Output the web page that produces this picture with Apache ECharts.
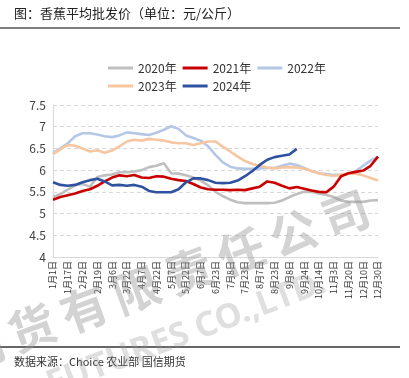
<!DOCTYPE html>
<html><head><meta charset="utf-8">
<script src="https://cdn.jsdelivr.net/npm/echarts@6/dist/echarts.min.js"></script>
<style>html,body{margin:0;padding:0;background:#fff}#c{width:409px;height:378px}</style>
</head><body><div id="c"></div>
<script>
var dates = ['1月1日','1月9日','1月17日','1月25日','2月2日','2月10日','2月19日','2月27日','3月6日','3月14日','3月22日','3月30日','4月7日','4月14日','4月22日','4月29日','5月7日','5月14日','5月22日','5月30日','6月7日','6月15日','6月23日','6月30日','7月8日','7月15日','7月23日','7月30日','8月7日','8月15日','8月23日','8月31日','9月8日','9月16日','9月24日','10月4日','10月14日','10月24日','11月3日','11月11日','11月20日','11月30日','12月10日','12月20日','12月30日'];
var tickLabels = ['1月1日','1月17日','2月2日','2月19日','3月6日','3月22日','4月7日','4月22日','5月7日','5月22日','6月7日','6月23日','7月8日','7月23日','8月7日','8月23日','9月8日','9月24日','10月14日','11月3日','11月20日','12月10日','12月30日'];
var seriesNames = ['2020年','2021年','2022年','2023年','2024年'];
var y2020 = [5.38,5.45,5.55,5.65,5.68,5.62,5.84,5.88,5.90,5.95,5.95,5.97,6.00,6.07,6.10,6.16,5.93,5.92,5.88,5.83,5.76,5.65,5.50,5.40,5.32,5.26,5.24,5.24,5.24,5.24,5.25,5.30,5.38,5.45,5.50,5.50,5.46,5.43,5.38,5.30,5.27,5.27,5.27,5.30,5.31];
var y2021 = [5.32,5.38,5.42,5.46,5.52,5.56,5.64,5.74,5.83,5.88,5.86,5.89,5.83,5.82,5.86,5.85,5.80,5.77,5.75,5.68,5.60,5.56,5.55,5.55,5.54,5.55,5.54,5.58,5.62,5.74,5.71,5.64,5.58,5.61,5.57,5.53,5.50,5.49,5.62,5.86,5.93,5.96,5.99,6.10,6.31];
var y2022 = [6.40,6.50,6.62,6.78,6.85,6.85,6.82,6.78,6.76,6.80,6.87,6.85,6.83,6.81,6.86,6.93,7.01,6.95,6.80,6.74,6.68,6.55,6.35,6.18,6.08,6.04,6.03,6.03,6.04,6.05,6.05,6.10,6.15,6.12,6.05,5.98,5.93,5.91,5.89,5.89,5.91,5.98,6.10,6.22,6.31];
var y2023 = [6.37,6.48,6.58,6.56,6.50,6.43,6.46,6.40,6.45,6.55,6.66,6.70,6.68,6.72,6.70,6.68,6.64,6.62,6.62,6.58,6.62,6.66,6.66,6.54,6.43,6.31,6.21,6.14,6.10,6.06,6.04,6.06,6.07,6.06,6.03,5.98,5.93,5.89,5.87,5.89,5.92,5.92,5.88,5.82,5.76];
var y2024 = [5.72,5.66,5.64,5.66,5.72,5.77,5.80,5.74,5.65,5.66,5.64,5.66,5.62,5.52,5.49,5.49,5.49,5.56,5.72,5.81,5.81,5.77,5.71,5.70,5.71,5.76,5.86,5.98,6.12,6.24,6.30,6.33,6.36,6.49,null,null,null,null,null,null,null,null,null,null,null];
var colors = ['#bfbfbf','#c80000','#b4c7e7','#f7c6a0','#2f52a0'];
var allData = [y2020,y2021,y2022,y2023,y2024];
var wmChars = ['期','货','有','限','责','任','公','司'];

var chart = echarts.init(document.getElementById('c'));
var series = seriesNames.map(function(n,k){
  return {name:n,type:'line',data:allData[k],symbol:'none',smooth:false,
    lineStyle:{width:2.6,color:colors[k]},itemStyle:{color:colors[k]},z:k===4?6:(k===1?5:3)};
});
chart.setOption({
  backgroundColor:'#fff',
  animation:false,
  color:colors,
  legend:{left:103,top:57,width:220,itemWidth:25,itemHeight:3,icon:'rect',itemGap:6,
    textStyle:{fontSize:12,color:'#333',fontFamily:'Noto Sans CJK SC'},data:seriesNames},
  grid:{left:53,right:31,top:105,bottom:121},
  xAxis:{type:'category',data:dates,boundaryGap:false,
    axisLine:{lineStyle:{color:'#d9d9d9'}},axisTick:{show:false},
    axisLabel:{rotate:90,fontSize:9,color:'#333',margin:4,fontFamily:'Noto Sans CJK SC',
      interval:function(i,v){return tickLabels.indexOf(v)>=0;}}},
  yAxis:{type:'value',min:4,max:7.5,interval:0.5,
    axisLine:{show:true,lineStyle:{color:'#d9d9d9'}},axisTick:{show:false},
    axisLabel:{fontSize:12,color:'#404040',margin:7,fontFamily:'Noto Sans CJK SC'},
    splitLine:{lineStyle:{type:[4,3],color:'#d9d9d9'}}},
  series:series,
  graphic:[
    {type:'text',left:14,top:7,style:{text:'图：香蕉平均批发价（单位：元/公斤）',font:'13px "Noto Sans CJK SC"',fill:'#222'}},
    {type:'line',shape:{x1:0,y1:28,x2:400,y2:28},style:{stroke:'#555',lineWidth:1.5}},
    {type:'line',shape:{x1:0,y1:347,x2:400,y2:347},style:{stroke:'#666',lineWidth:2}},
    {type:'text',left:14,top:356,style:{text:'数据来源：Choice 农业部 国信期货',font:'11px "Noto Sans CJK SC"',fill:'#333'}},
    {type:'group',x:32,y:328,rotation:0.35,z:100,children:wmChars.map(function(c,i){
      return {type:'text',x:(i-1)*55.6,y:0,z:100,style:{text:c,font:'bold 47px "Noto Sans CJK SC"',fill:'rgba(150,150,150,0.42)',textAlign:'center',textVerticalAlign:'middle'}};
    })},
    {type:'text',x:48,y:386,rotation:0.36,z:100,style:{text:'FUTURES CO.,LTD.',font:'bold 34px "Noto Sans"',fill:'rgba(150,150,150,0.3)',textVerticalAlign:'middle'}}
  ]
});
</script></body></html>
